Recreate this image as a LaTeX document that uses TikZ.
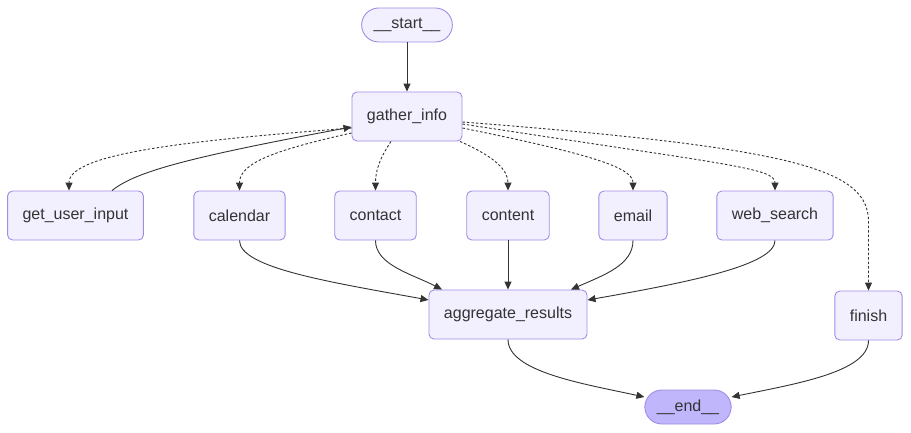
\documentclass[tikz,border=0pt]{standalone}
\usepackage{fontspec}
\setmainfont{Liberation Sans}
\usetikzlibrary{arrows.meta,calc}
\definecolor{nfill}{HTML}{F2F0FF}
\definecolor{nline}{HTML}{A38BE6}
\definecolor{efill}{HTML}{BFB6FC}
\definecolor{eline}{HTML}{333333}
\definecolor{tcol}{HTML}{333333}
\begin{document}
\begin{tikzpicture}[x=1pt,y=-1pt,
  box/.style={draw=nline,fill=nfill,rounded corners=5pt,inner xsep=15pt,minimum height=49pt,
    font=\fontsize{16}{19}\selectfont,text=tcol,line width=0.9pt},
  term/.style={draw=nline,fill=nfill,rounded corners=17pt,inner xsep=12pt,minimum height=34pt,
    font=\fontsize{16}{19}\selectfont,text=tcol,line width=0.9pt},
  edge/.style={draw=eline,line width=0.9pt,-{Triangle[length=8pt,width=7pt]}},
  dedge/.style={edge,dash pattern=on 2.5pt off 2pt}]
\useasboundingbox (0,0) rectangle (911,432);
\node[term] (st) at (407,25) {\_\_start\_\_};
\node[box] (gi) at (407,116.5) {gather\_info};
\node[box] (gu) at (75.5,215.5) {get\_user\_input};
\node[box] (ca) at (239.5,215.5) {calendar};
\node[box] (co) at (375.5,215.5) {contact};
\node[box] (ct) at (508,215.5) {content};
\node[box] (em) at (633,215.5) {email};
\node[box] (ws) at (775,215.5) {web\_search};
\node[box] (fi) at (868.5,315.5) {finish};
\node[box] (ag) at (508,314.5) {aggregate\_results};
\node[term,fill=efill] (en) at (688,407) {\_\_end\_\_};

\draw[edge] (st) -- (gi);
% gather_info to tools (dashed)
\draw[dedge] ($(gi.west)+(0,11.5)$) .. controls (200,140) and (69,152) .. ($(gu.north)+(-6.5,0)$);
\draw[edge] ($(gu.north)+(36.5,0)$) .. controls (135,172) and (185,158) .. ($(gi.west)+(0,10.5)$);
\draw[dedge] ($(gi.west)+(0,16.5)$) .. controls (275,150) and (239.5,163) .. (ca.north);
\draw[dedge] ($(gi.south)+(-16,0)$) .. controls (380,158) and (375.5,170) .. (co.north);
\draw[dedge] ($(gi.south)+(53,0)$) .. controls (495,157) and (508,170) .. (ct.north);
\draw[dedge] ($(gi.east)+(0,11.5)$) .. controls (595,155) and (633,168) .. (em.north);
\draw[dedge] ($(gi.east)+(0,7.5)$) .. controls (730,165) and (775,168) .. (ws.north);
\draw[dedge] ($(gi.east)+(0,5.5)$) .. controls (800,148) and (868.5,170) .. (868.5,222) -- (fi.north);
% tools to aggregate
\draw[edge] (ca.south) .. controls (239.5,268) and (330,282) .. ($(ag.west)+(0,-14.5)$);
\draw[edge] (co.south) .. controls (375.5,265) and (412,274) .. ($(ag.north)+(-66,0)$);
\draw[edge] (ct.south) -- (ag.north);
\draw[edge] (em.south) .. controls (633,265) and (604,275) .. ($(ag.north)+(63,0)$);
\draw[edge] (ws.south) .. controls (775,265) and (690,282) .. ($(ag.east)+(0,-14.5)$);
% to end
\draw[edge] (ag.south) .. controls (508,372) and (585,384) .. ($(en.west)+(0,-10)$);
\draw[edge] (fi.south) .. controls (868.5,372) and (795,384) .. ($(en.east)+(0,-10)$);
\end{tikzpicture}
\end{document}
